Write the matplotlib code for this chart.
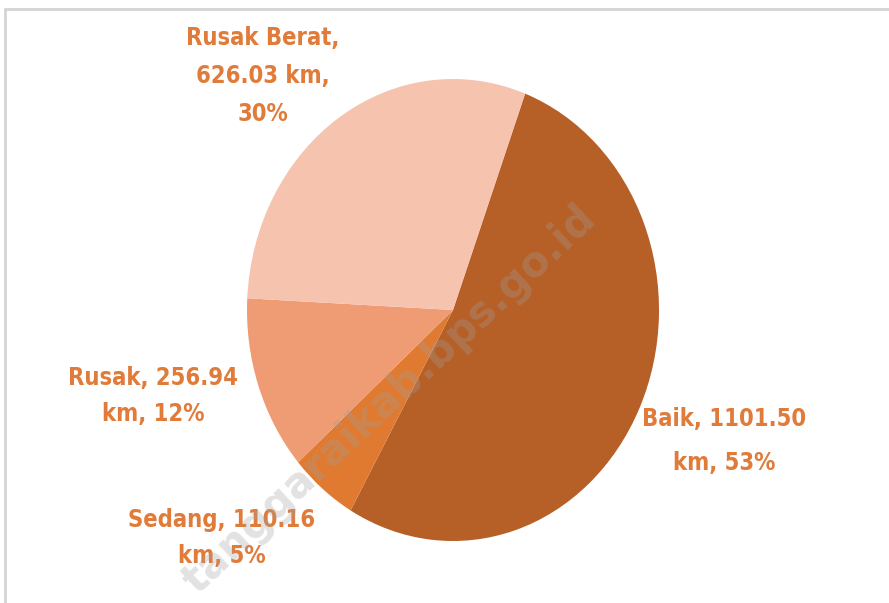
import matplotlib
matplotlib.use("Agg")
import matplotlib.pyplot as plt
from matplotlib.patches import Rectangle

# data
kategori = ["Baik", "Sedang", "Rusak", "Rusak Berat"]
panjang_km = [1101.50, 110.16, 256.94, 626.03]
persen = [53, 5, 12, 30]
warna = ["#B65F26", "#E07A30", "#EF9B73", "#F5C3AE"]

W, H = 889, 603
fig = plt.figure(figsize=(W / 100, H / 100), dpi=100)
fig.patch.set_facecolor("white")

# frame around the chart
fig.patches.append(Rectangle((5 / W, -0.05), 1.0, (H - 9) / H + 0.05, transform=fig.transFigure,
                             fill=False, edgecolor="#d4d4d4", linewidth=2, zorder=0))

# pie centre (453, 310) px, radii 206 x 231 px -> elliptical pie
cx, cy, rx, ry = 453, 310, 206, 231
ax = fig.add_axes([(cx - rx) / W, (H - cy - ry) / H, 2 * rx / W, 2 * ry / H])
ax.pie(panjang_km, colors=warna, startangle=69.5, counterclock=False,
       radius=1, wedgeprops=dict(linewidth=0))
ax.set_aspect("auto")
ax.set_xlim(-1, 1)
ax.set_ylim(-1, 1)
ax.axis("off")

def px(x, y):
    return (x - cx) / rx, (cy - y) / ry

font = dict(family="DejaVu Sans", stretch="condensed", fontweight="bold",
            fontsize=17, color="#E07B39", ha="center", va="center")

label_pos = {"Baik": (724, 441), "Sedang": (222, 538), "Rusak": (153, 396), "Rusak Berat": (263, 76)}
spasi = {"Baik": 2.0, "Sedang": 1.62, "Rusak": 1.68, "Rusak Berat": 1.76}
teks = {
    "Baik": "Baik, {:.2f}\nkm, {}%",
    "Sedang": "Sedang, {:.2f}\nkm, {}%",
    "Rusak": "Rusak, {:.2f}\nkm, {}%",
    "Rusak Berat": "Rusak Berat,\n{:.2f} km,\n{}%",
}
for k, v, p in zip(kategori, panjang_km, persen):
    x, y = px(*label_pos[k])
    ax.text(x, y, teks[k].format(v, p), linespacing=spasi[k], **font)

# watermark
x, y = px(390, 400)
ax.text(x, y, "tanggaraikab.bps.go.id", rotation=43, fontsize=30, fontweight="bold",
        color="#a0a0a0", alpha=0.3, ha="center", va="center", family="DejaVu Sans")

fig.savefig("out.png", dpi=100)
